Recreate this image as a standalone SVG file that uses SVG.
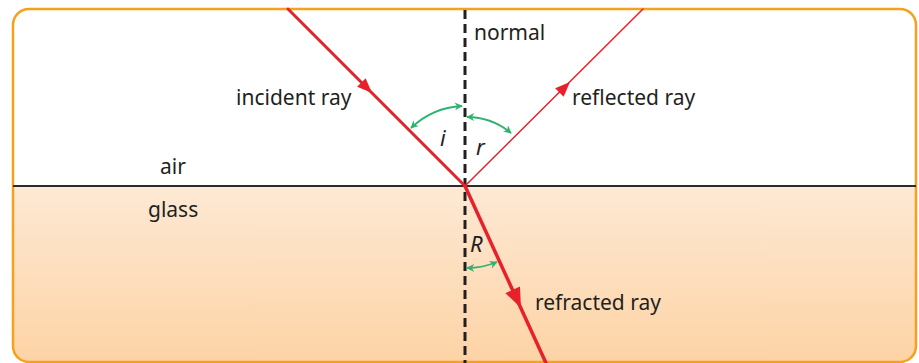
<svg xmlns="http://www.w3.org/2000/svg" xmlns:xlink="http://www.w3.org/1999/xlink" width="919" height="363" viewBox="0 0 919 363">
<defs>
<style>
.lbl{font-family:"Noto Sans","Open Sans",sans-serif;font-size:21px;fill:#231f20}
.ang{font-family:"Noto Sans","Open Sans",sans-serif;font-size:22px;font-style:italic;fill:#231f20}
.ray{stroke:#e8202a;fill:none;stroke-linecap:round}
.arc{stroke:#2db36f;stroke-width:1.8;fill:none}
</style>
<linearGradient id="glass" x1="0" y1="0" x2="0" y2="1">
<stop offset="0" stop-color="#fde9d4"/>
<stop offset="1" stop-color="#fdd3a5"/>
</linearGradient>
<clipPath id="frameClip"><rect x="13" y="9" width="903" height="353" rx="16"/></clipPath>
<marker id="ga" viewBox="0 0 10 10" refX="9" refY="5" markerWidth="9" markerHeight="8" markerUnits="userSpaceOnUse" orient="auto-start-reverse">
<path d="M0,0 L10,5 L0,10 L3,5 Z" fill="#2db36f"/>
</marker>
<path id="ah" d="M0,0 L-15,-6 L-15,6 Z" fill="#e8202a"/>
<path id="ahb" d="M0,0 L-20,-8 L-20,8 Z" fill="#e8202a"/>
</defs>
<rect width="919" height="363" fill="#ffffff"/>
<g id="media" clip-path="url(#frameClip)">
<rect x="13" y="9" width="903" height="177" fill="#ffffff"/>
<rect x="13" y="186" width="903" height="177" fill="url(#glass)"/>
</g>
<g id="frame">
<rect x="13" y="9" width="903" height="353" rx="16" fill="none" stroke="#f5a11c" stroke-width="2.5"/>
</g>
<g id="connectors">
<line id="interface" x1="13" y1="186" x2="916" y2="186" stroke="#2b2b2b" stroke-width="2.2"/>
<line id="normal" x1="465" y1="10" x2="465" y2="363" stroke="#231f20" stroke-width="3" stroke-dasharray="9,5"/>
<line id="incident" class="ray" x1="288" y1="9" x2="465" y2="186" stroke-width="3"/>
<use href="#ah" transform="translate(372,93) rotate(45)"/>
<line id="reflected" class="ray" x1="465" y1="186" x2="643" y2="9" stroke-width="1.5"/>
<use href="#ah" transform="translate(570,82) rotate(-45)"/>
<line id="refracted" class="ray" x1="465" y1="186" x2="546" y2="363" stroke-width="3.5"/>
<use href="#ahb" transform="translate(521,308) rotate(65.4)"/>
<path class="arc" d="M411,128 A80,80 0 0 1 462,106" marker-start="url(#ga)" marker-end="url(#ga)"/>
<path class="arc" d="M467,117 A70,70 0 0 1 511,133" marker-start="url(#ga)" marker-end="url(#ga)"/>
<path class="arc" d="M467,268 A82,82 0 0 0 497,262" marker-start="url(#ga)" marker-end="url(#ga)"/>
</g>
<g id="labels">
<text class="lbl" x="474" y="40">normal</text>
<text class="lbl" x="236" y="105">incident ray</text>
<text class="lbl" x="572" y="105">reflected ray</text>
<text class="lbl" x="160" y="174">air</text>
<text class="lbl" x="148" y="217">glass</text>
<text class="lbl" x="535" y="310">refracted ray</text>
<text class="ang" x="440" y="146">i</text>
<text class="ang" x="476" y="155">r</text>
<text class="ang" x="470" y="252">R</text>
</g>
</svg>
